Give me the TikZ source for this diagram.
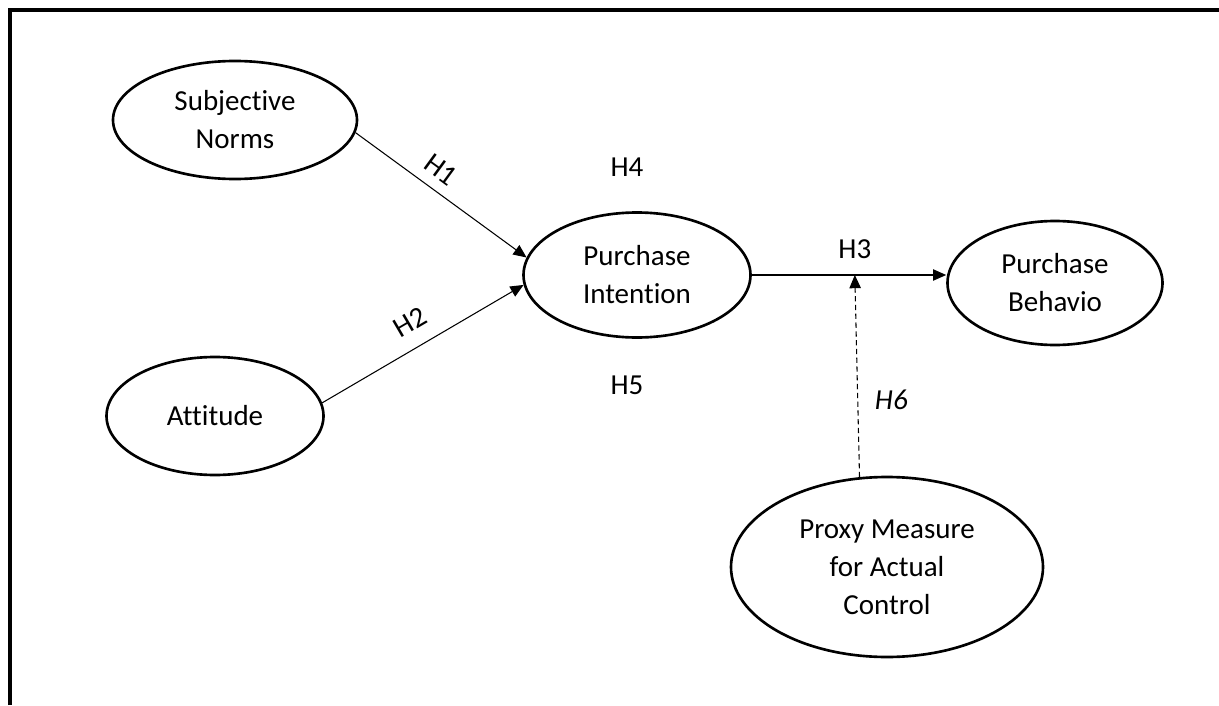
\documentclass[tikz,border=0pt]{standalone}
\usepackage{fontspec}
\setmainfont[Ligatures=NoCommon,RawFeature={-liga;-clig}]{Carlito}
\usetikzlibrary{shapes.geometric,arrows.meta,positioning,calc}
\tikzset{
    % Construct (latent variable) style
    construct/.style={
        ellipse,
        draw=black,
        line width=1.5pt,
        inner sep=0pt,
        align=center,
        font=\fontsize{16.5}{21.6}\selectfont
    },
    % Path arrow
    patharrow/.style={
        -{Triangle[length=7.5pt,width=6.5pt]},
        line width=0.6pt,
        draw=black
    },
    % Moderating path (dashed)
    modarrow/.style={
        patharrow,
        dash pattern=on 3pt off 2pt
    },
    % Hypothesis label
    hlabel/.style={
        font=\fontsize{16.5}{20}\selectfont,
        inner sep=1pt
    }
}
\begin{document}
\begin{tikzpicture}
    \useasboundingbox (0,0) rectangle (24.38,14.1);
    % Frame
    \draw[line width=2pt] (0.2,0) -- (0.2,13.9) -- (24.38,13.9);

    % Constructs
    \node[construct, minimum width=4.88cm, minimum height=2.36cm] (sn) at (4.70,11.70) {Subjective\\Norms};
    \node[construct, minimum width=4.34cm, minimum height=2.36cm] (att) at (4.30,5.78) {Attitude};
    \node[construct, minimum width=4.54cm, minimum height=2.50cm] (pi) at (12.74,8.60) {Purchase\\Intention};
    \node[construct, minimum width=4.30cm, minimum height=2.48cm] (pb) at (21.10,8.44) {Purchase\\Behavio};
    \node[construct, minimum width=6.24cm, minimum height=3.60cm] (pc) at (17.74,2.76) {Proxy Measure\\for Actual\\Control};

    % Hypotheses
    \draw[patharrow] (sn.-6) -- node[hlabel, sloped, above=5pt, pos=0.43] (h1) {H1} (pi.171);
    \draw[patharrow] (att.7) -- node[hlabel, sloped, above=7.5pt, pos=0.5] (h2) {H2} (pi.185);
    \draw[patharrow] (pi.east) -- node[hlabel, above=8pt, pos=0.53] (h3) {H3} (pi.east -| pb.west);
    \coordinate (h3mid) at ($(pi.east)!0.53!(pi.east -| pb.west)$);
    \draw[modarrow] (pc.107) -- node[hlabel, right=8.5pt, pos=0.38, font=\fontsize{16.5}{20}\selectfont\itshape] (h6) {H6} (h3mid);

    \node[hlabel] (h4) at (12.54,10.76) {H4};
    \node[hlabel] (h5) at (12.54,6.40) {H5};
\end{tikzpicture}
\end{document}
